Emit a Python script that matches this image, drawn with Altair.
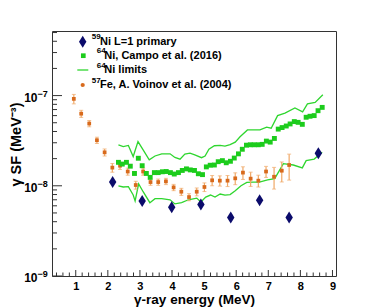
import altair as alt
import pandas as pd

# ---------------- data ----------------
# 59Ni L=1 primary (navy diamonds)
ni59_e = [2.15, 3.07, 3.99, 4.90, 5.83, 6.73, 7.65, 8.56]
ni59_sf = [1.1e-8, 6.8e-9, 5.8e-9, 6.2e-9, 4.45e-9, 6.9e-9, 4.45e-9, 2.3e-8]

# 64Ni, Campo et al. (2016) (green squares)
ni64_e = [2.33, 2.45, 2.58, 2.70, 2.83, 2.95, 3.07, 3.20, 3.32, 3.45, 3.57, 3.70, 3.82,
          3.95, 4.07, 4.20, 4.32, 4.45, 4.57, 4.70, 4.82, 4.95, 5.07, 5.19, 5.32, 5.44,
          5.57, 5.69, 5.82, 5.94, 6.07, 6.19, 6.32, 6.44, 6.56, 6.69, 6.81, 6.94, 7.06,
          7.19, 7.31, 7.43, 7.56, 7.68, 7.81, 7.93, 8.06, 8.18, 8.30, 8.43, 8.55, 8.68]
ni64_sf = [1.82e-8, 1.74e-8, 1.82e-8, 1.65e-8, 1.37e-8, 2.02e-8, 1.67e-8, 1.37e-8, 1.24e-8,
           1.40e-8, 1.40e-8, 1.43e-8, 1.44e-8, 1.40e-8, 1.35e-8, 1.40e-8, 1.48e-8, 1.54e-8,
           1.50e-8, 1.48e-8, 1.36e-8, 1.33e-8, 1.62e-8, 1.69e-8, 1.70e-8, 1.85e-8, 1.90e-8,
           1.80e-8, 1.87e-8, 2.03e-8, 2.26e-8, 2.54e-8, 2.82e-8, 2.85e-8, 2.85e-8, 2.85e-8,
           2.88e-8, 3.13e-8, 3.05e-8, 3.35e-8, 4.25e-8, 4.42e-8, 4.60e-8, 4.85e-8, 5.15e-8,
           5.05e-8, 4.80e-8, 5.75e-8, 5.90e-8, 6.00e-8, 6.80e-8, 7.40e-8]
ni64_rel_err = [0.04] * len(ni64_e)

# 64Ni limits (green lines)
up_e = [2.33, 2.48, 2.64, 2.79, 2.94, 3.10, 3.29, 3.47, 3.68, 3.94, 4.09, 4.25, 4.40, 4.56,
        4.71, 4.92, 5.03, 5.15, 5.32, 5.50, 5.65, 5.81, 5.97, 6.12, 6.35, 6.74, 6.95, 7.09,
        7.29, 7.52, 7.83, 8.07, 8.22, 8.46, 8.70]
up_sf = [2.84e-8, 2.72e-8, 2.80e-8, 2.11e-8, 3.09e-8, 2.50e-8, 1.94e-8, 2.14e-8, 2.26e-8,
         2.26e-8, 2.06e-8, 1.97e-8, 2.25e-8, 2.30e-8, 2.20e-8, 2.05e-8, 2.14e-8, 2.55e-8,
         2.78e-8, 2.80e-8, 2.75e-8, 2.86e-8, 3.05e-8, 3.50e-8, 4.16e-8, 4.16e-8, 4.47e-8,
         4.35e-8, 6.00e-8, 6.40e-8, 7.30e-8, 6.60e-8, 8.10e-8, 8.40e-8, 1.02e-7]
lo_e = [2.33, 2.48, 2.64, 2.79, 2.85, 2.96, 3.10, 3.31, 3.47, 3.68, 3.94, 4.09, 4.30, 4.51,
        4.77, 4.90, 5.05, 5.20, 5.34, 5.50, 5.65, 5.81, 5.97, 6.15, 6.33, 6.53, 6.72, 6.98,
        7.20, 7.47, 7.78, 8.06, 8.18, 8.43, 8.68]
lo_sf = [1.00e-8, 9.7e-9, 9.8e-9, 7.9e-9, 6.8e-9, 1.05e-8, 8.6e-9, 6.5e-9, 7.2e-9, 7.2e-9,
         7.0e-9, 6.3e-9, 6.5e-9, 7.0e-9, 7.3e-9, 6.6e-9, 7.5e-9, 7.9e-9, 7.5e-9, 8.1e-9,
         7.9e-9, 8.0e-9, 8.8e-9, 1.0e-8, 1.09e-8, 1.10e-8, 1.10e-8, 1.16e-8, 1.20e-8,
         1.76e-8, 1.70e-8, 1.58e-8, 1.90e-8, 1.98e-8, 2.35e-8]

# 57Fe, A. Voinov et al. (2004) (orange points with error bars)
fe57_e = [0.94, 1.17, 1.42, 1.66, 1.90, 2.14, 2.38, 2.62, 2.87, 3.10, 3.33, 3.57, 3.81, 4.05,
          4.29, 4.53, 4.77, 5.01, 5.25, 5.49, 5.73, 5.97, 6.21, 6.45, 6.69, 6.93, 7.18, 7.42,
          7.65]
fe57_sf = [9.2e-8, 6.3e-8, 4.9e-8, 3.2e-8, 2.35e-8, 1.59e-8, 1.67e-8, 1.44e-8, 1.02e-8,
           1.44e-8, 1.10e-8, 1.10e-8, 1.12e-8, 9.6e-9, 8.6e-9, 7.5e-9, 8.6e-9, 9.7e-9,
           1.15e-8, 1.14e-8, 1.14e-8, 1.21e-8, 1.40e-8, 1.20e-8, 1.14e-8, 1.44e-8, 1.26e-8,
           1.47e-8, 1.70e-8]
fe57_rel_err = [0.12, 0.09, 0.08, 0.08, 0.09, 0.11, 0.09, 0.09, 0.10, 0.09, 0.08, 0.08,
                0.08, 0.08, 0.09, 0.09, 0.10, 0.11, 0.13, 0.13, 0.14, 0.15, 0.16, 0.18,
                0.15, 0.14, 0.27, 0.25, 0.32]

x_tick_labels = [1, 2, 3, 4, 5, 6, 7, 8, 9]
y_decades = [1e-9, 1e-8, 1e-7]
y_decade_sup = ["\u22129", "\u22128", "\u22127"]

# ---------------- styling ----------------
FONT = "Liberation Sans"
W, H = 284, 245
NAVY = "#0b0b6b"
GREEN = "#1ccc1c"
GLINE = "#2fd62f"
ORANGE = "#d86a1c"
ORANGE_ERR = "#f0a866"
FRAME = "#333333"

xs = alt.Scale(domain=[0.26, 9.11], nice=False, zero=False)
ys = alt.Scale(type="log", domain=[1e-9, 5.2e-7], nice=False)

xa = alt.Axis(values=x_tick_labels, format="d", labelFont=FONT, labelFontSize=11,
              labelFontWeight="bold", labelColor="black", labelPadding=4, ticks=False,
              tickSize=0, domain=False, grid=False, labelFlush=False, labelOverlap=False,
              title="\u03b3-ray energy (MeV)", titleFont=FONT, titleFontSize=13.5,
              titleFontWeight="bold", titleColor="black", titleY=27,
              titleBaseline="alphabetic", titleX=W / 2, titleAlign="center")
ya = alt.Axis(labels=False, ticks=False, domain=False, grid=False,
              title="\u03b3 SF (MeV\u207b\u00b3)", titleFont=FONT, titleFontSize=14.5,
              titleFontWeight="bold", titleColor="black", titleX=-36, titleY=113,
              titleAngle=270, titleAlign="center", titleBaseline="middle")

X = lambda f: alt.X(f, type="quantitative", scale=xs, axis=xa)
Y = lambda f: alt.Y(f, type="quantitative", scale=ys, axis=ya)

ni59 = pd.DataFrame({"e": ni59_e, "sf": ni59_sf})
ni64 = pd.DataFrame({"e": ni64_e, "sf": ni64_sf,
                     "lo": [s * (1 - r) for s, r in zip(ni64_sf, ni64_rel_err)],
                     "hi": [s * (1 + r) for s, r in zip(ni64_sf, ni64_rel_err)]})
up = pd.DataFrame({"e": up_e, "sf": up_sf})
lo = pd.DataFrame({"e": lo_e, "sf": lo_sf})
fe = pd.DataFrame({"e": fe57_e, "sf": fe57_sf,
                   "lo": [s * (1 - r) for s, r in zip(fe57_sf, fe57_rel_err)],
                   "hi": [s * (1 + r) for s, r in zip(fe57_sf, fe57_rel_err)]})

DIAMOND = "M0,-1L0.62,0L0,1L-0.62,0Z"

layers = []
layers.append(alt.Chart(up).mark_line(color=GLINE, strokeWidth=1.3).encode(x=X("e"), y=Y("sf")))
layers.append(alt.Chart(lo).mark_line(color=GLINE, strokeWidth=1.3).encode(x=X("e"), y=Y("sf")))
layers.append(alt.Chart(fe).mark_rule(color=ORANGE_ERR, strokeWidth=1.2).encode(x=X("e"), y=Y("lo"), y2="hi"))
layers.append(alt.Chart(fe).mark_tick(color=ORANGE_ERR, orient="horizontal", size=4, thickness=1).encode(x=X("e"), y=Y("lo")))
layers.append(alt.Chart(fe).mark_tick(color=ORANGE_ERR, orient="horizontal", size=4, thickness=1).encode(x=X("e"), y=Y("hi")))
layers.append(alt.Chart(fe).mark_point(shape="square", filled=True, opacity=1, color=ORANGE, size=14).encode(x=X("e"), y=Y("sf")))
layers.append(alt.Chart(ni64).mark_rule(color=GREEN, strokeWidth=2.5).encode(x=X("e"), y=Y("lo"), y2="hi"))
layers.append(alt.Chart(ni64).mark_point(shape="square", filled=True, opacity=1, color=GREEN, size=24).encode(x=X("e"), y=Y("sf")))
layers.append(alt.Chart(ni59).mark_point(shape=DIAMOND, filled=True, opacity=1, color=NAVY, size=144).encode(x=X("e"), y=Y("sf")))

# axis ticks (inside the frame, ROOT style)
x_minor = [round(0.2 * k, 1) for k in range(2, 46) if k % 5 != 0]
y_minor = [m * d for d in y_decades for m in range(2, 10) if m * d <= 5.2e-7]
layers.append(alt.Chart(pd.DataFrame({"v": x_tick_labels})).mark_rule(color=FRAME).encode(
    x=X("v"), y=alt.value(H), y2=alt.value(H - 6)))
layers.append(alt.Chart(pd.DataFrame({"v": x_minor})).mark_rule(color=FRAME).encode(
    x=X("v"), y=alt.value(H), y2=alt.value(H - 3.5)))
layers.append(alt.Chart(pd.DataFrame({"v": y_decades})).mark_rule(color=FRAME).encode(
    y=Y("v"), x=alt.value(0), x2=alt.value(10)))
layers.append(alt.Chart(pd.DataFrame({"v": y_minor})).mark_rule(color=FRAME).encode(
    y=Y("v"), x=alt.value(0), x2=alt.value(5)))

# y-axis labels 10^n
ylab = pd.DataFrame({"v": y_decades, "sup": y_decade_sup})
layers.append(alt.Chart(ylab).mark_text(text="10", font=FONT, fontSize=12, fontWeight="bold",
                                        align="right", baseline="middle", color="black", dy=2).encode(
    y=Y("v"), x=alt.value(-14.5)))
layers.append(alt.Chart(ylab).mark_text(font=FONT, fontSize=9, fontWeight="bold",
                                        align="left", baseline="middle", color="black", dy=-2).encode(
    y=Y("v"), x=alt.value(-14.5), text="sup:N"))

# legend
one = pd.DataFrame({"a": [0]})
rows = [10.7, 24.7, 39.0, 54.0]

def lg_text(x, y, t, size):
    return alt.Chart(one).mark_text(text=t, font=FONT, fontSize=size, fontWeight="bold",
                                    align="left", baseline="middle", color="black").encode(
        x=alt.value(x), y=alt.value(y))

layers.append(alt.Chart(one).mark_point(shape=DIAMOND, filled=True, opacity=1, color=NAVY, size=144).encode(
    x=alt.value(30.7), y=alt.value(rows[0])))
layers.append(alt.Chart(one).mark_point(shape="square", filled=True, opacity=1, color=GREEN, size=22).encode(
    x=alt.value(31.3), y=alt.value(rows[1])))
layers.append(alt.Chart(one).mark_rule(color=GLINE, strokeWidth=1.3).encode(
    x=alt.value(25.3), x2=alt.value(36.3), y=alt.value(rows[2])))
layers.append(alt.Chart(one).mark_point(shape="circle", filled=True, opacity=1, color=ORANGE, size=18).encode(
    x=alt.value(30.7), y=alt.value(rows[3])))
layers.append(lg_text(39.7, rows[0] - 4.5, "59", 8))
layers.append(lg_text(48.0, rows[0], "Ni L=1 primary", 11))
layers.append(lg_text(44.7, rows[1] - 4.5, "64", 8))
layers.append(lg_text(52.3, rows[1], "Ni, Campo et al. (2016)", 11))
layers.append(lg_text(44.7, rows[2] - 4.5, "64", 8))
layers.append(lg_text(52.3, rows[2], "Ni limits", 11))
layers.append(lg_text(39.7, rows[3] - 4.5, "57", 8))
layers.append(lg_text(48.0, rows[3], "Fe, A. Voinov et al. (2004)", 11))

chart = alt.layer(*layers).properties(
    width=W, height=H,
    autosize=alt.AutoSizeParams(type="none"),
    padding={"left": 44, "top": 23, "right": 30, "bottom": 34},
    background="white",
).configure_view(stroke=FRAME, strokeWidth=1)

chart.save("out.html", embed_options={"renderer": "svg", "actions": False})
